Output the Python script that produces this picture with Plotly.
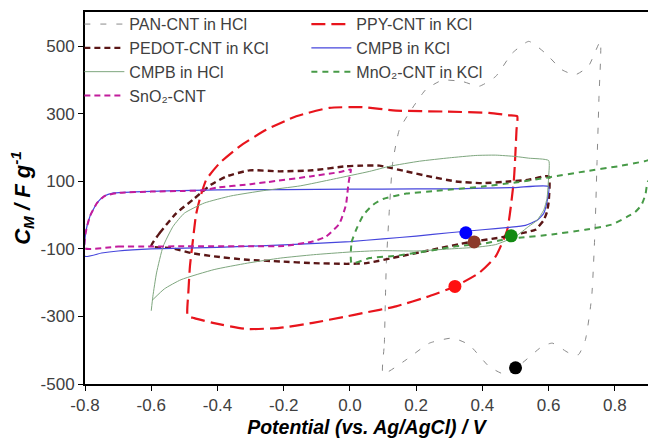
import plotly.graph_objects as go

# ---------------- data ----------------
pan_x = [0.10, 0.104, 0.107, 0.11, 0.118, 0.129, 0.149, 0.179, 0.229, 0.279, 0.34, 0.39, 0.44, 0.49, 0.54,
         0.59, 0.64, 0.68, 0.72, 0.756, 0.752, 0.746, 0.74, 0.73, 0.711, 0.69, 0.661, 0.611, 0.58, 0.52,
         0.47, 0.42, 0.36, 0.31, 0.24, 0.17, 0.10]
pan_y = [-470, -380, -250, -140, 0, 155, 253, 303, 372, 400, 396, 382, 411, 480, 515,
         480, 431, 416, 441, 515, 352, 155, -43, -241, -369, -413, -408, -379, -389, -438,
         -472, -448, -384, -364, -379, -428, -470]

ppy_x = [-0.49, -0.488, -0.483, -0.474, -0.465, -0.454, -0.434, -0.393, -0.333, -0.253, -0.162, -0.062,
         0.038, 0.139, 0.289, 0.42, 0.48, 0.505, 0.503, 0.495, 0.475, 0.44, 0.39, 0.317, 0.239, 0.139,
         0.038, -0.012, -0.112, -0.213, -0.313, -0.414, -0.47, -0.49]
ppy_y = [-298, -230, -150, -73, 0, 46, 105, 155, 204, 253, 293, 318,
         320, 310, 307, 303, 296, 293, 253, 105, -43, -122, -171, -211, -240, -270,
         -290, -300, -319, -334, -337, -319, -305, -298]

pedot_x = [-0.6, -0.574, -0.524, -0.474, -0.42, -0.373, -0.303, -0.213, -0.113, -0.012, 0.038, 0.089,
           0.109, 0.169, 0.239, 0.32, 0.4, 0.48, 0.54, 0.6, 0.6, 0.595, 0.585, 0.57, 0.56, 0.46, 0.36,
           0.25, 0.15, 0.05, -0.01, -0.11, -0.21, -0.31, -0.41, -0.48, -0.54, -0.6]
pedot_y = [-92, -52, 6, 46, 90, 115, 133, 130, 133, 145, 147, 147,
           143, 130, 115, 100, 95, 100, 105, 115, 40, 10, -15, -33, -43, -65, -80,
           -102, -122, -142, -144, -142, -137, -132, -122, -112, -97, -92]

cmpb_kcl_x = [-0.8, -0.75, -0.7, -0.6, -0.4, -0.2, 0.0, 0.1, 0.2, 0.3, 0.4, 0.48, 0.53, 0.565, 0.585,
              0.595, 0.6, 0.5, 0.4, 0.3, 0.2, 0.0, -0.2, -0.4, -0.55, -0.65, -0.713, -0.743, -0.763,
              -0.785, -0.798, -0.8]
cmpb_kcl_y = [-122, -112, -106, -100, -95, -88, -78, -70, -62, -52, -43, -36, -30, -15, 5,
              40, 85, 82, 80, 78, 78, 77, 76, 75, 72, 69, 66, 56, 37,
              -3, -52, -122]

cmpb_hcl_x = [-0.6, -0.595, -0.584, -0.564, -0.534, -0.5, -0.44, -0.36, -0.26, -0.15, -0.05, 0.06, 0.12,
              0.21, 0.3, 0.38, 0.44, 0.5, 0.54, 0.6, 0.6, 0.595, 0.585, 0.565, 0.54, 0.5, 0.44, 0.38,
              0.3, 0.2, 0.09, 0.0, -0.11, -0.21, -0.31, -0.41, -0.51, -0.56, -0.595]
cmpb_hcl_y = [-283, -240, -171, -92, -33, 6, 36, 57, 73, 87, 107, 130, 145,
              160, 170, 177, 178, 174, 169, 162, 115, 50, 15, -15, -33, -63, -87, -95,
              -100, -106, -105, -109, -117, -127, -142, -161, -191, -218, -250]

mno2_x = [0.005, 0.005, 0.018, 0.04, 0.07, 0.1, 0.17, 0.26, 0.4, 0.5, 0.6, 0.71, 0.81, 0.89, 0.94,
          0.94, 0.9, 0.892, 0.88, 0.86, 0.84, 0.79, 0.71, 0.61, 0.51, 0.45, 0.4, 0.32, 0.23, 0.14,
          0.06, 0.005]
mno2_y = [-142, -80, -45, 0, 31, 48, 64, 72, 85, 97, 112, 130, 145, 160, 172,
          130, 100, 60, 30, 8, -3, -28, -43, -57, -67, -75, -85, -92, -107, -120,
          -127, -142]

sno2_x = [-0.8, -0.7, -0.6, -0.5, -0.3, -0.2, -0.113, -0.072, -0.032, -0.012, -0.005, 0.0, 0.003,
          -0.03, -0.12, -0.25, -0.3, -0.4, -0.45, -0.5, -0.6, -0.7, -0.74, -0.763, -0.785, -0.798, -0.8]
sno2_y = [-98, -93, -93, -92, -92, -91, -78, -63, -25, 31, 90, 120, 135,
          128, 115, 98, 92, 82, 73, 72, 70, 66, 57, 37, -3, -52, -98]

dot_x = [0.35, 0.375, 0.487, 0.317, 0.50]
dot_y = [-52, -79, -61, -211, -452]
dot_colors = ["#0000ff", "#8b3a2a", "#138a13", "#ff1010", "#000000"]

x_ticks = [-0.8, -0.6, -0.4, -0.2, 0.0, 0.2, 0.4, 0.6, 0.8]
x_ticktext = ["-0.8", "-0.6", "-0.4", "-0.2", "0.0", "0.2", "0.4", "0.6", "0.8"]
y_ticks = [-500, -300, -100, 100, 300, 500]
y_ticktext = ["-500", "-300", "-100", "100", "300", "500"]

# ---------------- figure ----------------
series = [
    ("PAN-CNT in HCl", pan_x, pan_y, "#8a8a8a", 1.0, "6px,10px"),
    ("PPY-CNT in KCl", ppy_x, ppy_y, "#e8141c", 2.2, "14px,6px"),
    ("PEDOT-CNT in KCl", pedot_x, pedot_y, "#5a1616", 2.4, "6px,4px"),
    ("CMPB in KCl", cmpb_kcl_x, cmpb_kcl_y, "#4646dc", 1.2, "solid"),
    ("CMPB in HCl", cmpb_hcl_x, cmpb_hcl_y, "#7ea67e", 1.0, "solid"),
    ("MnO\u2082-CNT in KCl", mno2_x, mno2_y, "#479a47", 2.0, "6px,5px"),
    ("SnO\u2082-CNT", sno2_x, sno2_y, "#c21c9c", 2.0, "6px,4px"),
]

fig = go.Figure()
for name, xs, ys, color, w, dash in series:
    fig.add_trace(go.Scatter(
        x=xs, y=ys, mode="lines", name=name,
        line=dict(color=color, width=w, dash=dash, shape="spline", smoothing=0.5),
    ))

fig.add_trace(go.Scatter(
    x=dot_x, y=dot_y, mode="markers", showlegend=False,
    marker=dict(size=13, color=dot_colors, line=dict(width=0)),
))

font_family = "Liberation Sans, Arial, sans-serif"
fig.update_layout(
    width=648, height=443,
    margin=dict(l=85, r=0, t=12, b=59),
    paper_bgcolor="white", plot_bgcolor="white",
    font=dict(family=font_family, size=17, color="#404040"),
    showlegend=True,
    legend=dict(
        orientation="h", x=-0.01, y=1.013, xanchor="left", yanchor="top",
        entrywidth=172, entrywidthmode="pixels", itemwidth=40, tracegroupgap=0,
        bgcolor="rgba(0,0,0,0)", font=dict(size=16, color="#404040"),
    ),
    xaxis=dict(
        range=[-0.8, 0.9], tickvals=x_ticks, ticktext=x_ticktext,
        showgrid=False, zeroline=False,
        showline=True, linecolor="black", linewidth=2, mirror=True,
        ticks="outside", ticklen=5, tickcolor="black", tickwidth=1,
        title=dict(text="<b><i>Potential (vs. Ag/AgCl) / V</i></b>", standoff=6,
                   font=dict(size=19.5, color="black")),
    ),
    yaxis=dict(
        range=[-500, 602], tickvals=y_ticks, ticktext=y_ticktext,
        showgrid=False, zeroline=False, automargin=False,
        showline=True, linecolor="black", linewidth=2,
        ticks="outside", ticklen=5, tickcolor="black", tickwidth=1,
        title=dict(text="<b><i>C<sub>M</sub> / F g<sup>-1</sup></i></b>", standoff=4,
                   font=dict(size=22, color="black")),
    ),
)

fig.write_html("out.html", config={"displayModeBar": False},
               post_script="document.body.style.margin='0';document.body.style.padding='0';")
